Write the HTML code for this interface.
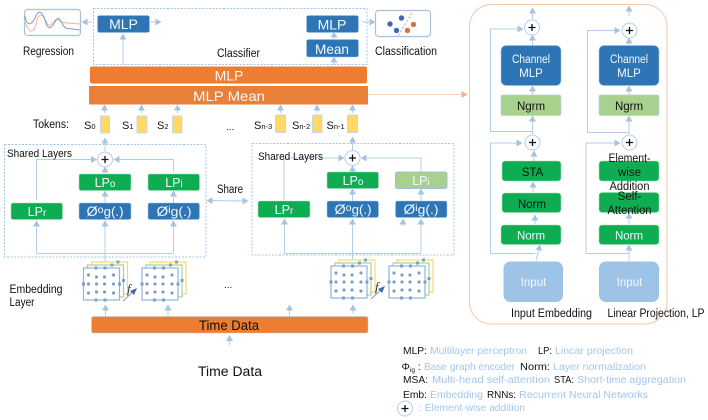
<!DOCTYPE html>
<html><head><meta charset="utf-8">
<style>
html,body{margin:0;padding:0;background:#fff;width:708px;height:420px;overflow:hidden}
svg{display:block;filter:blur(.35px)}
text{font-family:"Liberation Sans",sans-serif}
.k{fill:#111}
.w{fill:#f4f8fc;text-anchor:middle}
.b{fill:#a3c6ea}
.c{fill:#111;text-anchor:middle}
.l{fill:none;stroke:#b4cde6;stroke-width:1}
.d{fill:none;stroke:#a3c4e6;stroke-width:1;stroke-dasharray:2 1.5}
.blue{fill:#2e75b6;stroke:#9dc3e6;stroke-width:.6}
.green{fill:#0ead52;stroke:#a3dcb8;stroke-width:.6}
.lg{fill:#a9d18e;stroke:#b8d0e8;stroke-width:.8}
.or{fill:#ed7d31}
.tk{fill:#ffd966;stroke:#c9d6e2;stroke-width:1}
</style></head><body>
<svg width="708" height="420" viewBox="0 0 708 420" xmlns="http://www.w3.org/2000/svg">
<defs>
<marker id="a" markerWidth="7" markerHeight="7" refX="5.500" refY="3.500" orient="auto" markerUnits="userSpaceOnUse"><path d="M0 0L6 3.500L0 7z" fill="#a5c4e2"/></marker>
<marker id="ao" markerWidth="7" markerHeight="7" refX="5.500" refY="3.500" orient="auto" markerUnits="userSpaceOnUse"><path d="M0 0L6 3.500L0 7z" fill="#f4b183"/></marker>
<g id="plus"><circle r="7.500" fill="#fff" stroke="#b4cde6" stroke-width="1"/><path d="M-3.500 0H3.500M0-3.500V3.500" stroke="#111" stroke-width="1.300"/></g>
<g id="grid">
<rect x="8" y="-6" width="36" height="32" fill="#fff" stroke="#f2d877" stroke-width="1.200"/>
<rect x="4" y="-3" width="36" height="32" fill="#fff" stroke="#a9d18e" stroke-width="1.200"/>
<rect x="0" y="0" width="36" height="32" fill="#fff" stroke="#8fb4dc" stroke-width="1.200"/>
<g fill="#7f9fc4">
<circle cx="5" cy="7" r="1.600"/><circle cx="13" cy="9" r="1.600"/><circle cx="21" cy="9" r="1.600"/><circle cx="30" cy="7" r="1.600"/>
<circle cx="5" cy="16" r="1.600"/><circle cx="13" cy="16" r="1.600"/><circle cx="21" cy="16" r="1.600"/><circle cx="30" cy="16" r="1.600"/>
<circle cx="5" cy="25" r="1.600"/><circle cx="13" cy="24" r="1.600"/><circle cx="21" cy="24" r="1.600"/><circle cx="30" cy="25" r="1.600"/>
<rect x="11" y="-1.500" width="3" height="3"/><rect x="20" y="-1.500" width="3" height="3"/>
<rect x="11" y="30.500" width="3" height="3"/><rect x="20" y="30.500" width="3" height="3"/>
<rect x="-1.500" y="14.500" width="3" height="3"/><rect x="34.500" y="14.500" width="3" height="3"/>
<rect x="38.500" y="11" width="3" height="3"/><rect x="27" y="-4.500" width="3" height="3"/><rect x="33" y="-7.500" width="3" height="3"/>
</g>
</g>
</defs>

<!-- Regression -->
<rect x="24.500" y="9.500" width="56" height="26" rx="3" fill="#fff" stroke="#a9c0dc" stroke-width="1.200"/>
<path d="M25 22C29 33 33 34 36 25C38 12 42 13 46 21C50 32 53 18 58 20C61 22 63 23 80 24" fill="none" stroke="#f0b48e" stroke-width="1"/>
<path d="M25 16C27 28 32 24 35 18C38 10 42 10 45 20C48 32 52 28 56 20C60 14 62 27 66 28C70 29 75 29 80 30" fill="none" stroke="#7e9cc8" stroke-width="1"/>
<text x="23" y="55" font-size="11.500" class="k" textLength="51" lengthAdjust="spacingAndGlyphs">Regression</text>
<path class="l" d="M92 22H82" marker-end="url(#a)"/>

<!-- Classifier -->
<rect class="d" x="93.500" y="8.500" width="273.500" height="56"/>
<rect class="blue" x="97.500" y="15.500" width="52" height="17" rx="2"/>
<text class="w" x="123.500" y="29" font-size="14">MLP</text>
<path class="l" d="M150 22H161" marker-end="url(#a)"/>
<path class="l" d="M123 64V34" marker-end="url(#a)"/>
<text x="217" y="57" font-size="11.500" class="k" textLength="43" lengthAdjust="spacingAndGlyphs">Classifier</text>
<rect class="blue" x="306.500" y="15.500" width="52" height="17" rx="2"/>
<text class="w" x="332" y="29.500" font-size="14">MLP</text>
<rect class="blue" x="306.500" y="39.500" width="52" height="17.500" rx="2"/>
<text class="w" x="332" y="54" font-size="14" textLength="34" lengthAdjust="spacingAndGlyphs">Mean</text>
<path class="l" d="M334 39V32" marker-end="url(#a)"/>
<path class="l" d="M334 65V57" marker-end="url(#a)"/>
<path class="l" d="M362 22H375" marker-end="url(#a)"/>
<rect x="375.500" y="10.500" width="55" height="26" rx="3" fill="#fff" stroke="#a9c0dc" stroke-width="1.200"/>
<path d="M412 13L398 36" fill="none" stroke="#a9bcd6" stroke-width="1" stroke-dasharray="2.500 1.500"/>
<circle cx="390" cy="24" r="2.700" fill="#3f69ae"/><circle cx="401.500" cy="18" r="2.700" fill="#3f69ae"/><circle cx="396.500" cy="30.500" r="2.700" fill="#3f69ae"/>
<circle cx="407.500" cy="30.500" r="2.700" fill="#d2763a"/><circle cx="413.500" cy="24.500" r="2.700" fill="#d2763a"/>
<text x="375" y="55" font-size="11.500" class="k" textLength="62" lengthAdjust="spacingAndGlyphs">Classification</text>

<!-- Orange bars -->
<rect class="or" x="90" y="66.500" width="277" height="17" rx="2"/>
<text class="w" x="229" y="80.500" font-size="14">MLP</text>
<rect fill="#e8803a" x="89" y="86" width="279" height="18.500"/>
<text class="w" x="229" y="101" font-size="14" textLength="72" lengthAdjust="spacingAndGlyphs">MLP  Mean</text>
<path d="M368 94.500H467" fill="none" stroke="#f6d3bc" stroke-width="1" marker-end="url(#ao)"/>

<!-- Tokens -->
<text x="33" y="128" font-size="11.500" class="k" textLength="36" lengthAdjust="spacingAndGlyphs">Tokens:</text>
<text x="84" y="129" font-size="11" class="k">S<tspan font-size="7.500">0</tspan></text>
<text x="122" y="129" font-size="11" class="k">S<tspan font-size="7.500">1</tspan></text>
<text x="157" y="129" font-size="11" class="k">S<tspan font-size="7.500">2</tspan></text>
<text x="226" y="130" font-size="10" class="k">...</text>
<text x="254" y="129" font-size="11" class="k">S<tspan font-size="7.500">n-3</tspan></text>
<text x="292" y="129" font-size="11" class="k">S<tspan font-size="7.500">n-2</tspan></text>
<text x="326.500" y="129" font-size="11" class="k">S<tspan font-size="7.500">n-1</tspan></text>
<rect class="tk" x="100.500" y="116" width="9" height="17" rx="1"/>
<rect class="tk" x="137" y="116" width="10" height="17" rx="1"/>
<rect class="tk" x="172.500" y="116" width="9.500" height="17" rx="1"/>
<rect class="tk" x="275.500" y="115" width="10" height="17.500" rx="1"/>
<rect class="tk" x="312.500" y="115" width="9.500" height="17.500" rx="1"/>
<rect class="tk" x="347.500" y="115" width="10" height="17.500" rx="1"/>
<path class="l" d="M104.500 113V105" marker-end="url(#a)"/>
<path class="l" d="M141.500 113V105" marker-end="url(#a)"/>
<path class="l" d="M177.500 113V105" marker-end="url(#a)"/>
<path class="l" d="M280.500 113V105" marker-end="url(#a)"/>
<path class="l" d="M317 113V105" marker-end="url(#a)"/>
<path class="l" d="M352.500 113V105" marker-end="url(#a)"/>
<path class="l" d="M105 151V138" marker-end="url(#a)"/>
<path class="l" d="M352.500 150V137" marker-end="url(#a)"/>

<!-- Left shared -->
<rect class="d" x="4.500" y="144.500" width="201.500" height="112.500"/>
<path class="l" d="M36.500 200V159.500H96.500" marker-end="url(#a)"/>
<path class="l" d="M173.500 172V159.500H114" marker-end="url(#a)"/>
<path class="l" d="M105 173V167" marker-end="url(#a)"/>
<path class="l" d="M173.500 203V191" marker-end="url(#a)"/>
<path class="l" d="M105 203V191" marker-end="url(#a)"/>
<path class="l" d="M36.500 253V221" marker-end="url(#a)"/>
<path class="l" d="M105 264V221" marker-end="url(#a)"/>
<path class="l" d="M173.500 253V221" marker-end="url(#a)"/>
<path class="l" d="M36.500 253.500H173.500"/>
<use href="#plus" x="105" y="159.500"/>
<text x="7" y="157" font-size="11" class="k" textLength="65" lengthAdjust="spacingAndGlyphs">Shared  Layers</text>
<rect class="green" x="79" y="174" width="52" height="16.500" rx="2"/>
<text class="w" x="105" y="187" font-size="12.500">LP<tspan font-size="10">o</tspan></text>
<rect class="green" x="148" y="174" width="51.500" height="16.500" rx="2"/>
<text class="w" x="174" y="187" font-size="12.500">LP<tspan font-size="10">i</tspan></text>
<rect class="green" x="11" y="203" width="51.500" height="16.500" rx="2"/>
<text class="w" x="37" y="216" font-size="12.500">LP<tspan font-size="10">r</tspan></text>
<rect class="blue" x="79" y="203" width="52" height="16.500" rx="2"/>
<text class="w" x="105" y="216" font-size="13.500" textLength="37" lengthAdjust="spacingAndGlyphs">Ø<tspan font-size="10" dy="-3">o</tspan><tspan font-size="12.500" dy="3">g(.)</tspan></text>
<rect class="blue" x="148" y="203" width="51.500" height="16.500" rx="2"/>
<text class="w" x="174" y="216" font-size="13.500" textLength="35" lengthAdjust="spacingAndGlyphs">Ø<tspan font-size="10" dy="-3">i</tspan><tspan font-size="12.500" dy="3">g(.)</tspan></text>

<!-- Share -->
<text x="217" y="193" font-size="11.500" class="k" textLength="26" lengthAdjust="spacingAndGlyphs">Share</text>
<path class="l" d="M248 201L207 200.500" marker-end="url(#a)"/>
<path class="l" d="M230 201H248" marker-end="url(#a)"/>

<!-- Right shared -->
<rect class="d" x="252" y="143.500" width="202" height="111.500"/>
<path class="l" d="M284 200V158H344" marker-end="url(#a)"/>
<path class="l" d="M421 171V158H361" marker-end="url(#a)"/>
<path class="l" d="M352.500 172V166" marker-end="url(#a)"/>
<path class="l" d="M421 201V189" marker-end="url(#a)"/>
<path class="l" d="M352.500 201V189" marker-end="url(#a)"/>
<path class="l" d="M284.500 253V219" marker-end="url(#a)"/>
<path class="l" d="M352.500 264V219" marker-end="url(#a)"/>
<path class="l" d="M421 253V219" marker-end="url(#a)"/>
<path class="l" d="M403 226V219" marker-end="url(#a)"/>
<path class="l" d="M284.500 253.500H421"/>
<use href="#plus" x="352.500" y="158"/>
<text x="258" y="160" font-size="11" class="k" textLength="65" lengthAdjust="spacingAndGlyphs">Shared  Layers</text>
<rect class="green" x="327" y="172" width="51.500" height="16.500" rx="2"/>
<text class="w" x="353" y="185" font-size="12.500">LP<tspan font-size="10">o</tspan></text>
<rect x="395.500" y="172" width="51.500" height="16.500" rx="2" fill="#a9d18e" stroke="#9dbfe0"/>
<text class="w" x="421" y="185" font-size="12.500">LP<tspan font-size="10">i</tspan></text>
<rect class="green" x="258" y="201" width="52" height="16.500" rx="2"/>
<text class="w" x="284" y="214" font-size="12.500">LP<tspan font-size="10">r</tspan></text>
<rect class="blue" x="327" y="201" width="51.500" height="16.500" rx="2"/>
<text class="w" x="353" y="214" font-size="13.500" textLength="37" lengthAdjust="spacingAndGlyphs">Ø<tspan font-size="10" dy="-3">o</tspan><tspan font-size="12.500" dy="3">g(.)</tspan></text>
<rect class="blue" x="395.500" y="201" width="51.500" height="16.500" rx="2"/>
<text class="w" x="421" y="214" font-size="13.500" textLength="35" lengthAdjust="spacingAndGlyphs">Ø<tspan font-size="10" dy="-3">i</tspan><tspan font-size="12.500" dy="3">g(.)</tspan></text>

<!-- Embedding -->
<text x="9.500" y="293" font-size="11.500" class="k" textLength="53" lengthAdjust="spacingAndGlyphs">Embedding</text>
<text x="9.500" y="306" font-size="11.500" class="k" textLength="25" lengthAdjust="spacingAndGlyphs">Layer</text>
<use href="#grid" x="83.500" y="268"/>
<use href="#grid" x="142" y="268"/>
<use href="#grid" x="331" y="266"/>
<use href="#grid" x="389" y="266"/>
<path d="M123 301L136 289" stroke="#7f9fc4" stroke-width="1"/><path d="M137 288L130 291L134 295z" fill="#3f69ae"/>
<path d="M371 299L384 287" stroke="#7f9fc4" stroke-width="1"/><path d="M385 286L378 289L382 293z" fill="#3f69ae"/>
<text x="127" y="293" font-size="13" font-style="italic" style="font-family:'Liberation Serif',serif" fill="#333">f</text>
<text x="375" y="291" font-size="13" font-style="italic" style="font-family:'Liberation Serif',serif" fill="#333">f</text>
<text x="224" y="288" font-size="10" class="k">...</text>

<!-- Time data -->
<rect class="or" x="91.500" y="316.500" width="276.500" height="16.500" rx="2" stroke="#c9cdd4" stroke-width=".5"/>
<text class="c" x="229" y="330" font-size="13.500" textLength="60" lengthAdjust="spacingAndGlyphs">Time  Data</text>
<path class="l" d="M105.500 316V305" marker-end="url(#a)"/>
<path class="l" d="M168 316V305" marker-end="url(#a)"/>
<path class="l" d="M289.500 316V305" marker-end="url(#a)"/>
<path class="l" d="M353 314V305" marker-end="url(#a)"/>
<path class="l" d="M229.500 345V335.500" marker-end="url(#a)"/>
<text class="c" x="230" y="376" font-size="13.500" textLength="64" lengthAdjust="spacingAndGlyphs">Time  Data</text>

<!-- Right panel -->
<rect x="469.500" y="4.500" width="197.500" height="319.500" rx="22" fill="#fff" stroke="#f4c9ab" stroke-width="1"/>

<!-- left column -->
<path class="l" d="M532.500 19V8" marker-end="url(#a)"/>
<path class="l" d="M532.500 45V35" marker-end="url(#a)"/>
<path class="l" d="M532.500 95V86" marker-end="url(#a)"/>
<path class="l" d="M532.500 134V116" marker-end="url(#a)"/>
<path class="l" d="M533 131.500H490.500V29H523" marker-end="url(#a)"/>
<path class="l" d="M534 161V151" marker-end="url(#a)"/>
<path class="l" d="M533 192V182" marker-end="url(#a)"/>
<path class="l" d="M535 224V215" marker-end="url(#a)"/>
<path class="l" d="M535 253.500H490.500V143H522" marker-end="url(#a)"/>
<path class="l" d="M536 261L540 245" marker-end="url(#a)"/>
<use href="#plus" x="532" y="27.500"/>
<use href="#plus" x="532.500" y="142.500"/>
<rect class="blue" x="501" y="45.500" width="60" height="40" rx="5"/>
<text class="w" x="531" y="63" font-size="11.500" textLength="38" lengthAdjust="spacingAndGlyphs">Channel</text>
<text class="w" x="531" y="77" font-size="11.500">MLP</text>
<rect class="lg" x="501" y="95" width="60" height="20.500" rx="2"/>
<text class="c" x="531" y="110" font-size="11.500">Ngrm</text>
<rect class="green" x="502" y="161" width="59" height="20" rx="3"/>
<text class="c" x="532.500" y="176" font-size="11.500">STA</text>
<rect class="green" x="502" y="193" width="59" height="19.500" rx="3"/>
<text class="c" x="532" y="208" font-size="11.500">Norm</text>
<rect class="green" x="501" y="225" width="60" height="19.500" rx="3"/>
<text class="w" x="531" y="239.500" font-size="11.500">Norm</text>
<rect x="503.500" y="261.500" width="59.500" height="40.500" rx="7" fill="#9dc3e6"/>
<text class="w" x="533.500" y="286" font-size="11.500">Input</text>
<text x="511" y="317" font-size="11.500" class="k" textLength="81" lengthAdjust="spacingAndGlyphs">Input  Embedding</text>

<!-- right column -->
<path class="l" d="M629 16V6" marker-end="url(#a)"/>
<path class="l" d="M629 45V38" marker-end="url(#a)"/>
<path class="l" d="M629 95V86" marker-end="url(#a)"/>
<path class="l" d="M629 134V116" marker-end="url(#a)"/>
<path class="l" d="M629 132.500H587.500V30.500H620" marker-end="url(#a)"/>
<path class="l" d="M629 253.500H586V143H620" marker-end="url(#a)"/>
<path class="l" d="M629 224V213" marker-end="url(#a)"/>
<path class="l" d="M629 261V245" marker-end="url(#a)"/>
<use href="#plus" x="629.500" y="30.500"/>
<use href="#plus" x="629.500" y="142.500"/>
<rect class="blue" x="599" y="45.500" width="60" height="40" rx="5"/>
<text class="w" x="629" y="63" font-size="11.500" textLength="38" lengthAdjust="spacingAndGlyphs">Channel</text>
<text class="w" x="629" y="77" font-size="11.500">MLP</text>
<rect class="lg" x="599" y="95" width="60" height="20.500" rx="2"/>
<text class="c" x="629" y="110" font-size="11.500">Ngrm</text>
<rect class="green" x="599" y="161" width="60" height="20" rx="3"/>
<rect class="green" x="599" y="192.500" width="60" height="20" rx="3"/>
<rect class="green" x="599" y="225" width="60" height="19.500" rx="3"/>
<text class="w" x="629" y="239.500" font-size="11.500">Norm</text>
<text class="c" x="629.500" y="162" font-size="11.500" textLength="42" lengthAdjust="spacingAndGlyphs">Element-</text>
<text class="c" x="629.500" y="176" font-size="11.500">wise</text>
<text class="c" x="629.500" y="190" font-size="11.500" textLength="40" lengthAdjust="spacingAndGlyphs">Addition</text>
<text class="c" x="629.500" y="200" font-size="11.500">Self-</text>
<text class="c" x="629.500" y="214" font-size="11.500" textLength="44" lengthAdjust="spacingAndGlyphs">Attention</text>
<rect x="599" y="261.500" width="60" height="40.500" rx="7" fill="#9dc3e6"/>
<text class="w" x="629.500" y="286" font-size="11.500">Input</text>
<text x="607.500" y="317" font-size="11.500" class="k" textLength="97" lengthAdjust="spacingAndGlyphs">Linear  Projection,  LP</text>

<!-- Legend -->
<g font-size="10.500">
<text x="403" y="354" class="k" textLength="24" lengthAdjust="spacingAndGlyphs">MLP:</text>
<text x="430" y="354" class="b" textLength="97" lengthAdjust="spacingAndGlyphs">Multilayer perceptron</text>
<text x="538" y="354" class="k" textLength="14" lengthAdjust="spacingAndGlyphs">LP:</text>
<text x="555" y="354" class="b" textLength="78" lengthAdjust="spacingAndGlyphs">Lincar projection</text>
<text x="401.500" y="370" class="k">Φ<tspan font-size="6.500" dy="2">ig</tspan><tspan dy="-2"> :</tspan></text>
<text x="424" y="370" class="b" textLength="91" lengthAdjust="spacingAndGlyphs">Base graph encoder</text>
<text x="520" y="370" class="k" textLength="30" lengthAdjust="spacingAndGlyphs">Norm:</text>
<text x="553" y="370" class="b" textLength="93" lengthAdjust="spacingAndGlyphs">Layer normalization</text>
<text x="403" y="383" class="k" textLength="25" lengthAdjust="spacingAndGlyphs">MSA:</text>
<text x="432" y="383" class="b" textLength="118" lengthAdjust="spacingAndGlyphs">Multi-head self-attention</text>
<text x="554" y="383" class="k" textLength="20" lengthAdjust="spacingAndGlyphs">STA:</text>
<text x="577" y="383" class="b" textLength="109" lengthAdjust="spacingAndGlyphs">Short-time aggregation</text>
<text x="403" y="398" class="k" textLength="24" lengthAdjust="spacingAndGlyphs">Emb:</text>
<text x="430" y="398" class="b" textLength="53" lengthAdjust="spacingAndGlyphs">Embedding</text>
<text x="487" y="398" class="k" textLength="29" lengthAdjust="spacingAndGlyphs">RNNs:</text>
<text x="519" y="398" class="b" textLength="129" lengthAdjust="spacingAndGlyphs">Recurrent Neural Networks</text>
<text x="419" y="411" class="b" textLength="106" lengthAdjust="spacingAndGlyphs">: Element-wise addition</text>
</g>
<use href="#plus" x="405" y="408.500"/>
</svg>
</body></html>
